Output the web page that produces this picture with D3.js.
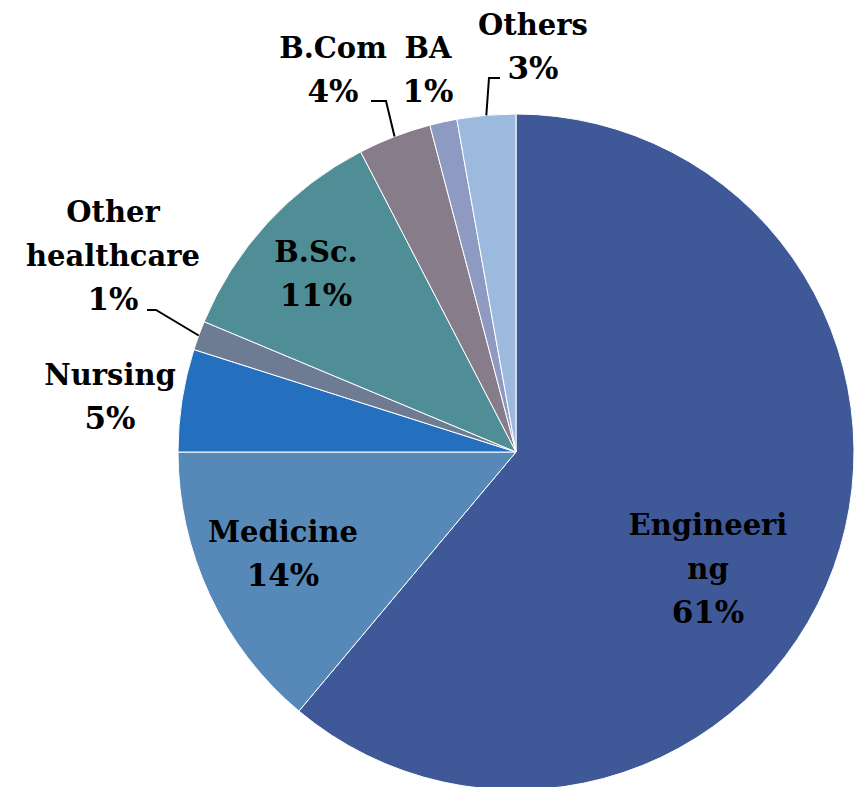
<!DOCTYPE html>
<html lang="en">
<head>
  <meta charset="UTF-8">
  <title>Pie Chart</title>
  <script src="https://d3js.org/d3.v7.min.js"></script>
  <style>
    body { margin: 0; background: #fff; }
    .lbl text {
      font: bold 29px "DejaVu Serif", serif;
      text-anchor: middle;
      fill: #000;
    }
    .lbl .pct { font-size: 31px; }
    .slice path { stroke: #fff; stroke-width: 1; }
    .leader { fill: none; stroke: #000; stroke-width: 2; }
  </style>
</head>
<body>
  <svg width="866" height="787"></svg>
  <script>
    // data, clockwise from 12 o'clock
    const categories = ['Engineering', 'Medicine', 'Nursing', 'Other healthcare', 'B.Sc.', 'B.Com', 'BA', 'Others'];
    const shares = [61.1, 13.9, 4.9, 1.4, 11.1, 3.5, 1.3, 2.8];
    const pctLabels = ['61%', '14%', '5%', '1%', '11%', '4%', '1%', '3%'];
    const nameLines = [['Engineeri', 'ng'], ['Medicine'], ['Nursing'], ['Other', 'healthcare'], ['B.Sc.'], ['B.Com'], ['BA'], ['Others']];
    const colors = ['#3f5998', '#5689b8', '#2470be', '#6d7b93', '#4f8e97', '#877c8a', '#8e9ac2', '#9bbadd'];

    // label layout: first-line baseline position, and leader elbow (null = inside)
    const labelPos = [
      { x: 708, y: 535, elbow: null },
      { x: 283, y: 542, elbow: null },
      { x: 110, y: 385, elbow: null },
      { x: 113, y: 222, elbow: [156, 310, 147] },
      { x: 316, y: 262, elbow: null },
      { x: 333, y: 58, elbow: [386, 101, 371] },
      { x: 428, y: 58, elbow: null },
      { x: 533, y: 35, elbow: [489, 78, 500] }
    ];

    const svg = d3.select('svg');
    const cx = 516, cy = 452, r = 338;
    const lineH = 44;

    const data = categories.map((c, i) => ({ name: c, value: shares[i], i: i }));

    const pie = d3.pie().sort(null).value(d => d.value);
    const arc = d3.arc().innerRadius(0).outerRadius(r);

    const g = svg.append('g').attr('transform', `translate(${cx},${cy})`);
    const arcs = pie(data);

    g.selectAll('.slice')
      .data(arcs)
      .enter()
      .append('g')
      .attr('class', 'slice')
      .append('path')
      .attr('d', arc)
      .attr('fill', d => colors[d.data.i]);

    // leader lines for outside labels
    arcs.forEach(d => {
      const p = labelPos[d.data.i];
      if (!p.elbow) return;
      const a = (d.startAngle + d.endAngle) / 2;
      const ex = cx + r * Math.sin(a), ey = cy - r * Math.cos(a);
      svg.append('polyline')
        .attr('class', 'leader')
        .attr('points', `${ex},${ey} ${p.elbow[0]},${p.elbow[1]} ${p.elbow[2]},${p.elbow[1]}`);
    });

    const lbl = svg.append('g').attr('class', 'lbl');
    arcs.forEach(d => {
      const i = d.data.i;
      const p = labelPos[i];
      const t = lbl.append('text').attr('x', p.x).attr('y', p.y);
      nameLines[i].forEach((s, k) => {
        t.append('tspan').attr('x', p.x).attr('y', p.y + k * lineH).text(s);
      });
      t.append('tspan')
        .attr('class', 'pct')
        .attr('x', p.x)
        .attr('y', p.y + nameLines[i].length * lineH)
        .text(pctLabels[i]);
    });
  </script>
</body>
</html>
